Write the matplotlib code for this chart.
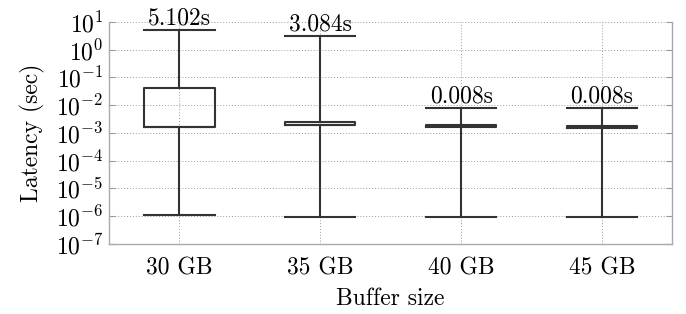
import numpy as np
import matplotlib.pyplot as plt

plt.rcParams['font.family'] = ['cmr10', 'DejaVu Serif']
plt.rcParams['mathtext.fontset'] = 'cm'
plt.rcParams['axes.formatter.use_mathtext'] = True

labels = ["30 GB", "35 GB", "40 GB", "45 GB"]
whis_lo = [1.11e-6, 9.6e-7, 9.6e-7, 9.6e-7]
q1 = [1.66e-3, 1.9e-3, 1.68e-3, 1.5e-3]
med = [1.66e-3, 1.9e-3, 1.8e-3, 1.6e-3]
q3 = [4.2e-2, 2.5e-3, 1.95e-3, 1.72e-3]
whis_hi = [5.102, 3.084, 0.008, 0.008]

stats = []
for i in range(len(labels)):
    stats.append(dict(whislo=whis_lo[i], q1=q1[i], med=med[i], q3=q3[i],
                      whishi=whis_hi[i], fliers=[], label=labels[i]))

fig = plt.figure(figsize=(6.86, 3.14), dpi=100)
ax = fig.add_axes([0.159, 0.223, 0.821, 0.707])

c = '#333333'
lw = 1.5
fs = 17
pos = np.arange(1, len(labels) + 1)
ax.bxp(stats, positions=pos, widths=0.5, showfliers=False,
       boxprops=dict(color=c, linewidth=lw),
       whiskerprops=dict(color=c, linewidth=lw),
       capprops=dict(color=c, linewidth=lw),
       medianprops=dict(color=c, linewidth=lw),
       capwidths=0.5, zorder=3)

# value labels sit on top of the upper whisker cap
for p, v in zip(pos, whis_hi):
    ax.text(p, v * 1.05, "{:.3f}s".format(v), ha='center', va='bottom', fontsize=fs, color='black')

ax.set_yscale('log')
ax.set_ylim(1e-7, 1e1)
ax.set_xlim(0.5, 4.5)
ax.set_yticks([10.0 ** k for k in range(-7, 2)])
ax.minorticks_off()
ax.set_xticks(pos)
ax.set_xticklabels(labels)

ax.grid(True, linestyle=(0, (1, 2)), color='#999999', linewidth=0.7, zorder=0)
ax.set_axisbelow(True)

ax.spines['top'].set_visible(False)
for s in ['left', 'right', 'bottom']:
    ax.spines[s].set_color('#aaaaaa')
    ax.spines[s].set_linewidth(1.0)

ax.tick_params(axis='y', which='both', direction='in', length=4, color='#999999',
               right=True, labelsize=fs, pad=4)
ax.tick_params(axis='x', length=0, labelsize=fs, pad=10)

ax.set_ylabel("Latency (sec)", fontsize=fs, labelpad=8)
ax.set_xlabel("Buffer size", fontsize=fs, labelpad=6)

fig.savefig("out.png", dpi=100)
